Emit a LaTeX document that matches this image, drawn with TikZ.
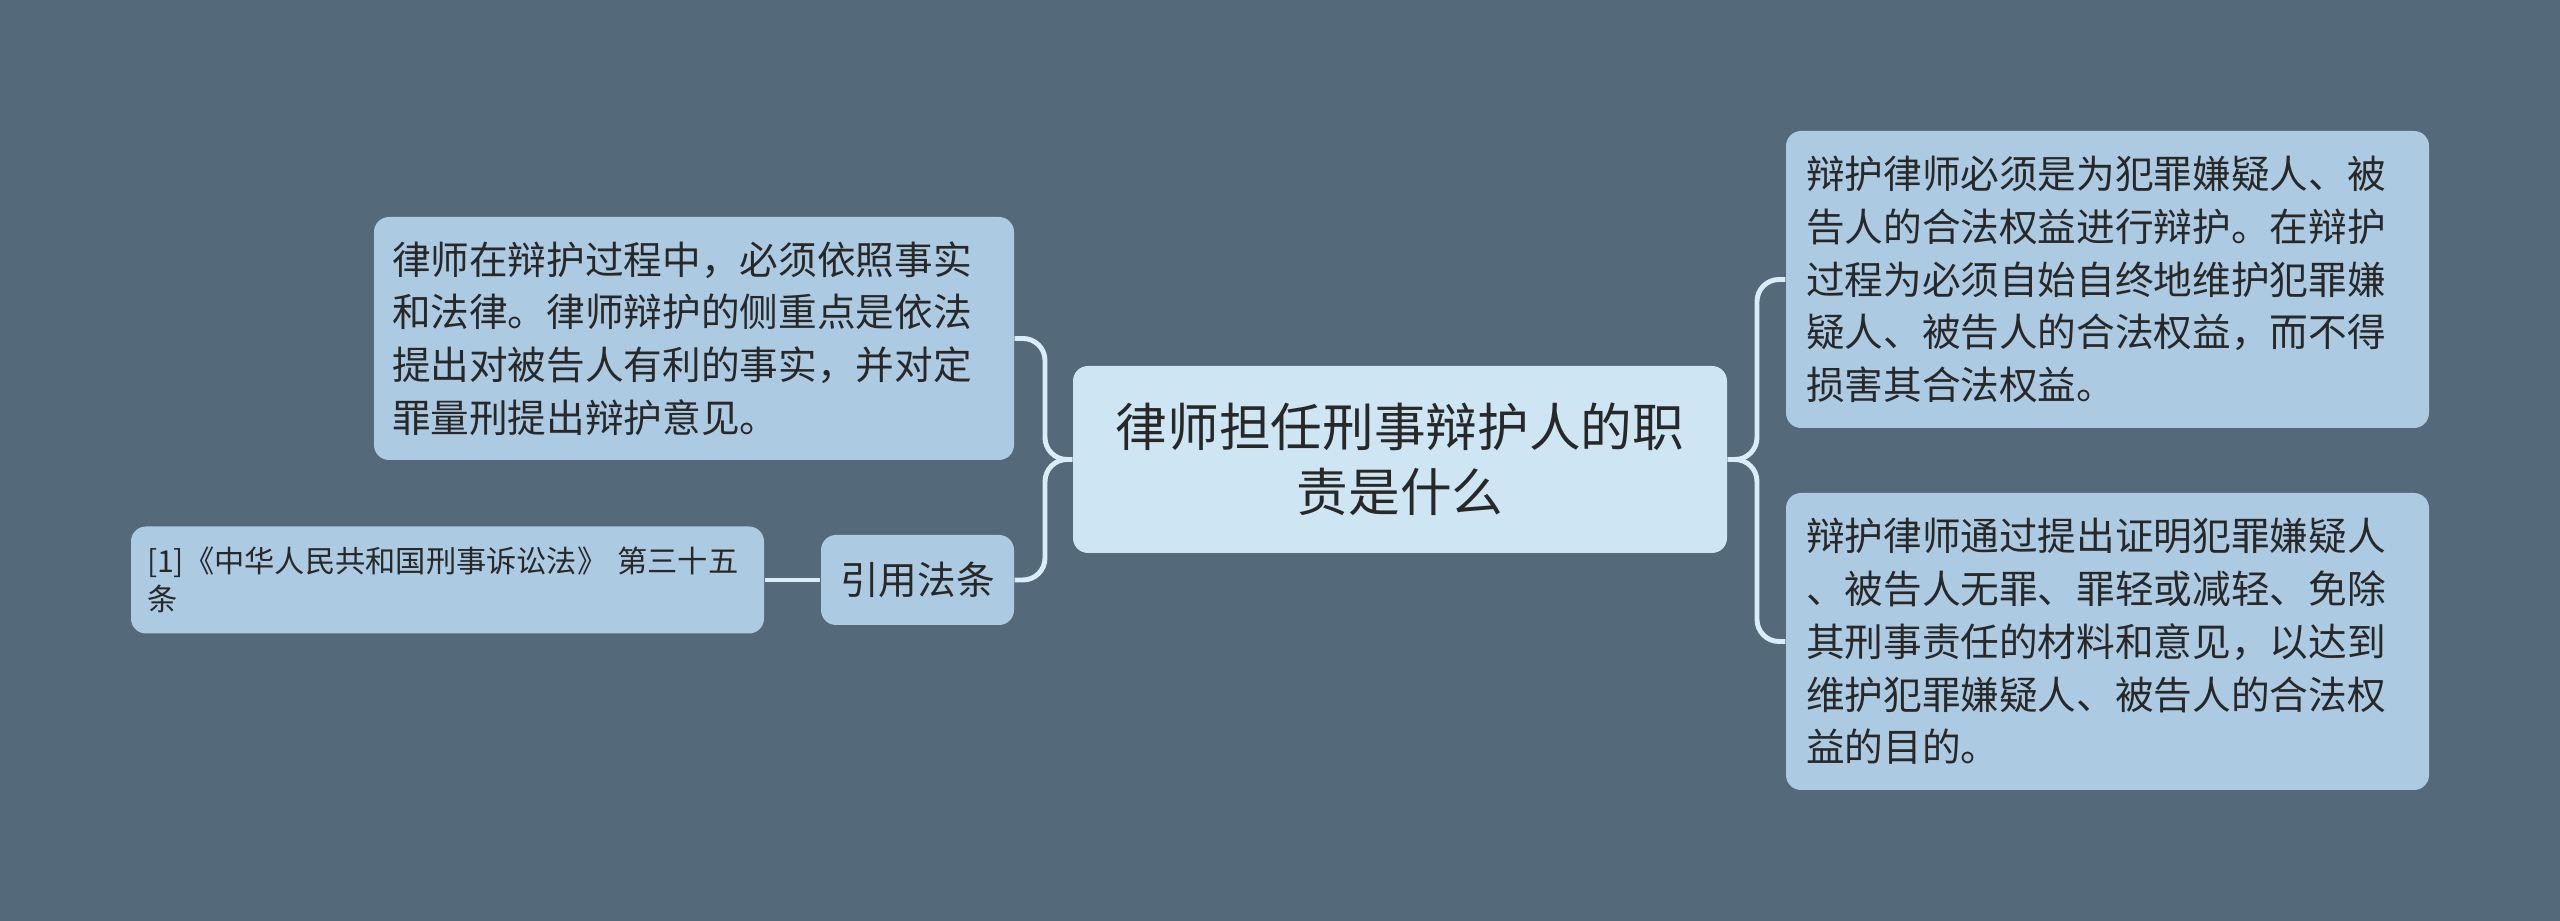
\documentclass[tikz,border=0pt]{standalone}
\usepackage{fontspec}
\setmainfont{Noto Sans CJK SC}
\definecolor{bgslate}{RGB}{84,106,122}
\definecolor{leafblue}{RGB}{172,202,225}
\definecolor{rootblue}{RGB}{206,230,243}
\definecolor{linkblue}{RGB}{216,237,247}
\definecolor{inkgray}{RGB}{40,40,40}

\begin{document}
\begin{tikzpicture}[
    leaf/.style={fill=leafblue,rounded corners=0.15cm,text=inkgray,align=left,inner xsep=0.18cm,
      font=\fontsize{11pt}{15pt}\selectfont},
    root/.style={fill=rootblue,rounded corners=0.15cm,text=inkgray,align=center,inner xsep=0.2cm,
      font=\fontsize{14.7pt}{18.5pt}\selectfont},
    link/.style={draw=linkblue,line width=1.4pt,rounded corners=0.22cm}]
    \fill[bgslate] (0,0) rectangle (25.6,9.21);
    % central topic
    \node (root) at (14,4.615) [root,text width=6.14cm,minimum height=1.87cm] {律师担任刑事辩护人的职\\责是什么};
    % left side
    \node (duty) at (6.94,5.825) [leaf,text width=6.04cm,minimum height=2.43cm] {律师在辩护过程中，必须依照事实\\和法律。律师辩护的侧重点是依法\\提出对被告人有利的事实，并对定\\罪量刑提出辩护意见。};
    \node (cite) at (9.175,3.41) [leaf,minimum width=1.93cm,minimum height=0.9cm] {引用法条};
    \node (law) at (4.475,3.41) [leaf,text width=6.01cm,inner xsep=0.16cm,minimum height=1.07cm,
      font=\fontsize{8.6pt}{10.7pt}\selectfont] {[1]《中华人民共和国刑事诉讼法》 第三十五\\条};
    % right side
    \node (aim) at (21.075,6.415) [leaf,text width=6.03cm,inner xsep=0.2cm,minimum height=2.97cm] {辩护律师必须是为犯罪嫌疑人、被\\告人的合法权益进行辩护。在辩护\\过程为必须自始自终地维护犯罪嫌\\疑人、被告人的合法权益，而不得\\损害其合法权益。};
    \node (proof) at (21.075,2.795) [leaf,text width=6.03cm,inner xsep=0.2cm,minimum height=2.97cm] {辩护律师通过提出证明犯罪嫌疑人\\、被告人无罪、罪轻或减轻、免除\\其刑事责任的材料和意见，以达到\\维护犯罪嫌疑人、被告人的合法权\\益的目的。};
    \coordinate (ljoin) at (10.45,4.615);
    \coordinate (rjoin) at (17.57,4.615);
    \draw[link] (root.west) -- (ljoin) |- (duty.east);
    \draw[link] (root.west) -- (ljoin) |- (cite.east);
    \draw[link] (cite.west) -- (law.east);
    \draw[link] (root.east) -- (rjoin) |- (aim.west);
    \draw[link] (root.east) -- (rjoin) |- (proof.west);
\end{tikzpicture}
\end{document}
